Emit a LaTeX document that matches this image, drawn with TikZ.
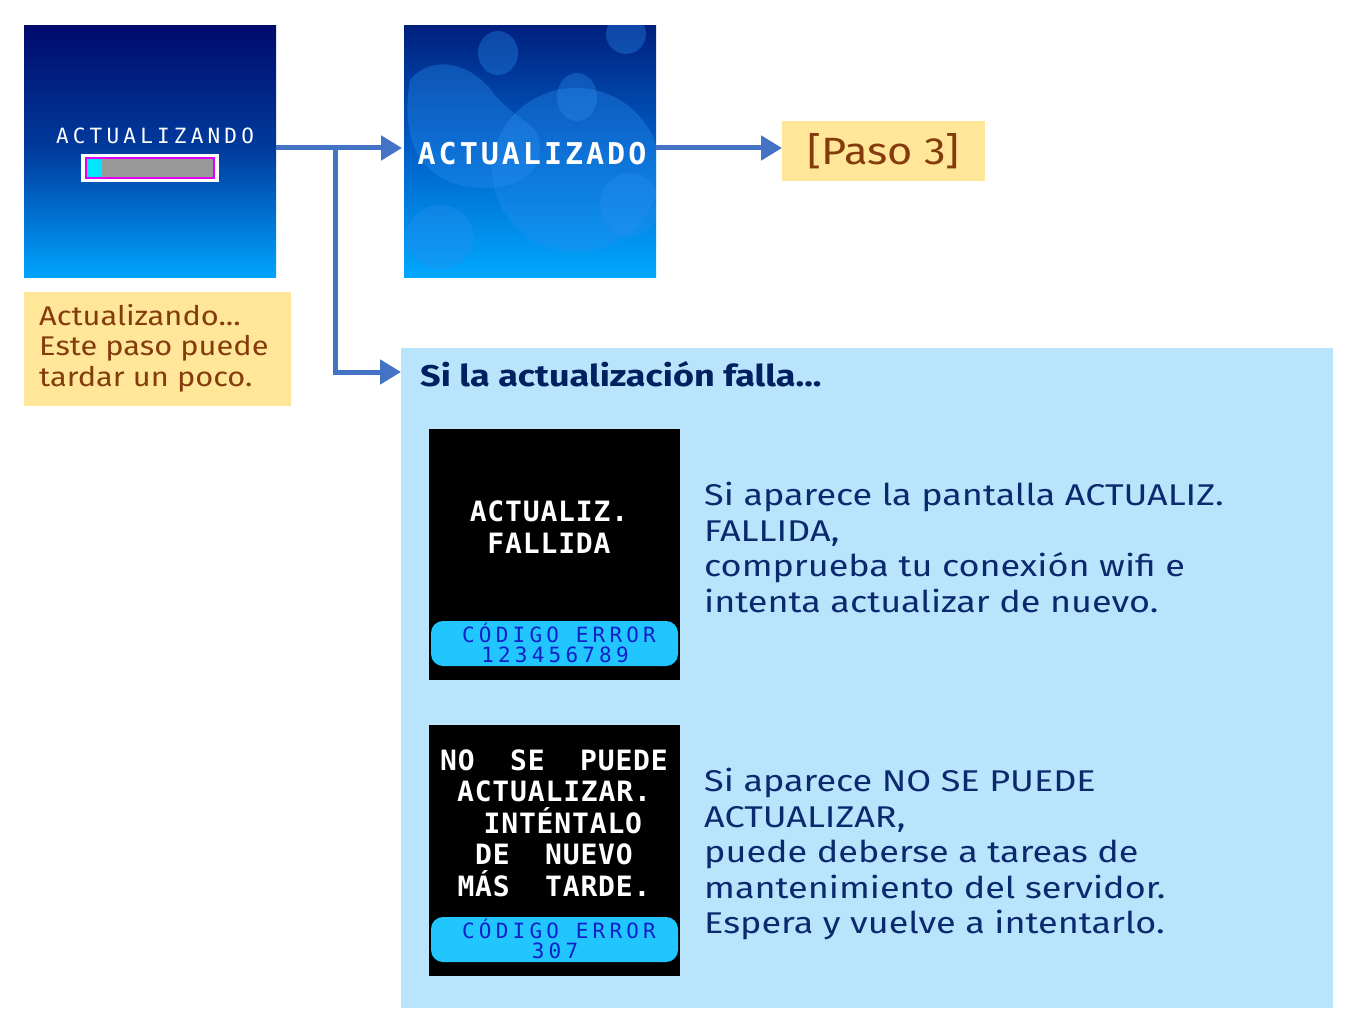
\documentclass[tikz,border=0pt]{standalone}
\usepackage{fontspec}
\setmainfont{Fira Sans}[FakeStretch=1.2]
\newfontfamily\capfont{Fira Sans}[FakeStretch=1.14]
\newfontfamily\pixfont{DejaVu Sans Mono}[LetterSpace=20]
\newfontfamily\pixbold{DejaVu Sans Mono Bold}[LetterSpace=3]
\newfontfamily\pixboldw{DejaVu Sans Mono Bold}[LetterSpace=10]
\usetikzlibrary{arrows.meta}
\definecolor{navytop}{HTML}{000B6C}
\definecolor{navymid}{HTML}{003C9E}
\definecolor{navybot}{HTML}{00A4FF}
\definecolor{s2top}{HTML}{00207E}
\definecolor{s2mid}{HTML}{0060C8}
\definecolor{s2bot}{HTML}{00A8FF}
\definecolor{bubblec}{HTML}{2A90F0}
\definecolor{capyel}{HTML}{FFE699}
\definecolor{capbrown}{HTML}{843C0C}
\definecolor{panelblue}{HTML}{B8E4FC}
\definecolor{titlenavy}{HTML}{002060}
\definecolor{bodynavy}{HTML}{0A2A6E}
\definecolor{arrblue}{HTML}{4472C4}
\definecolor{pillcyan}{HTML}{22C6FF}
\definecolor{pilltext}{HTML}{1020C8}
\definecolor{barmag}{HTML}{E000F0}
\definecolor{barcyan}{HTML}{00E6FF}
\begin{document}
\begin{tikzpicture}[x=1pt,y=-1pt,
  screen/.style={minimum width=252pt,minimum height=251pt,inner sep=0pt,outer sep=0pt},
  caption/.style={fill=capyel,inner sep=0pt,outer sep=0pt,text=capbrown},
  arr/.style={draw=arrblue,line width=5pt,-{Triangle[length=21pt,width=24pt]}},
  blackscr/.style={fill=black,minimum width=251pt,minimum height=251pt,inner sep=0pt,outer sep=0pt},
  pill/.style={fill=pillcyan,rounded corners=12pt,minimum width=247pt,minimum height=45pt,inner sep=0pt},
  pilltxt/.style={text=pilltext,font=\pixfont\fontsize{21}{21}\selectfont,inner sep=0pt},
  scrtxt/.style={text=white,font=\pixbold\fontsize{28}{31.5}\selectfont,inner sep=0pt,align=center},
  bodytxt/.style={text=bodynavy,font=\fontsize{30}{35.5}\selectfont,inner sep=0pt,align=left,anchor=north west},
  bubble/.style={fill=bubblec,fill opacity=0.35}
]
\useasboundingbox (0,0) rectangle (1360,1035);
\fill[white] (0,0) rectangle (1360,1035);

% Screen 1
\node[screen,top color=navytop,bottom color=navybot,middle color=navymid] (s1) at (150,151.5) {};
\node[text=white,font=\pixfont\fontsize{21}{21}\selectfont,inner sep=0pt] (s1txt) at (155,136) {ACTUALIZANDO};
\node[fill=white,minimum width=138pt,minimum height=28pt,inner sep=0pt] (barout) at (150,168) {};
\node[fill=black!40,draw=barmag,line width=2pt,minimum width=128pt,minimum height=20pt,inner sep=0pt] (barin) at (150,168) {};
\node[fill=barcyan,minimum width=15pt,minimum height=18pt,inner sep=0pt,anchor=west] (barfill) at ([xshift=2pt]barin.west) {};

% Caption 1
\node[caption,minimum width=267pt,minimum height=114pt] (cap1) at (157.5,349) {};
\node[text=capbrown,font=\capfont\fontsize{27}{30.5}\selectfont,align=left,anchor=north west,inner sep=0pt] (cap1txt) at (39,304) {Actualizando...\\Este paso puede\\tardar un poco.};

% Screen 2
\node[screen,top color=s2top,bottom color=s2bot,middle color=s2mid] (s2) at (530,151.5) {};
\begin{scope}
\clip (404,26) rectangle (656,277);
\fill[bubble] (498,53) circle[x radius=20,y radius=22];
\fill[bubble] (626,34) circle[radius=20];
\fill[bubble] (577,97) circle[x radius=20,y radius=24];
\fill[bubble] (410,80) .. controls (430,55) and (470,60) .. (495,95) .. controls (520,125) and (540,120) .. (540,150) .. controls (540,180) and (500,195) .. (460,185) .. controls (420,175) and (400,140) .. (410,80);
\fill[bubble] (576,170) circle[x radius=84,y radius=82];
\fill[bubble] (630,205) circle[x radius=30,y radius=32];
\fill[bubble] (440,237) circle[x radius=34,y radius=32];
\end{scope}
\node[text=white,font=\pixboldw\fontsize{30}{30}\selectfont,inner sep=0pt] (s2txt) at (532,154) {ACTUALIZADO};

% Paso 3
\node[caption,minimum width=203pt,minimum height=60pt,font=\capfont\fontsize{38}{38}\selectfont] (paso) at (883.5,151) {[Paso 3]};

% Panel
\node[fill=panelblue,minimum width=932pt,minimum height=660pt,inner sep=0pt,outer sep=0pt] (panel) at (867,678) {};
\node[text=titlenavy,font=\bfseries\fontsize{30}{30}\selectfont,inner sep=0pt,anchor=west] (title) at (420,374) {Si la actualización falla...};

% Arrows
\coordinate (br) at (335,148);
\draw[arr] ([yshift=3.5pt]s1.east) -- ([yshift=3.5pt,xshift=-2pt]s2.west);
\draw[arr] ([yshift=3.5pt]s2.east) -- ([yshift=3pt]paso.west);
\draw[arr] (br) |- ([yshift=2pt]title.west -| panel.west);

% Black screen 1
\node[blackscr] (b1) at (554.5,554.5) {};
\node[scrtxt] (b1txt) at (549,527) {ACTUALIZ.\\FALLIDA};
\node[pill] (p1) at (554.5,643.5) {};
\node[pilltxt] (p1a) at (559,633) {CÓDIGO ERROR};
\node[pilltxt] (p1b) at (555,655) {123456789};
\node[bodytxt] (t1) at (704,482) {Si aparece la pantalla ACTUALIZ.\\FALLIDA,\\comprueba tu conexión wifi e\\intenta actualizar de nuevo.};

% Black screen 2
\node[blackscr] (b2) at (554.5,850) {};
\node[scrtxt] (b2txt) at (554,823) {NO\ \ SE\ \ PUEDE\\ACTUALIZAR.\\\ INTÉNTALO\\DE\ \ NUEVO\\MÁS\ \ TARDE.};
\node[pill] (p2) at (554.5,939.5) {};
\node[pilltxt] (p2a) at (559,929) {CÓDIGO ERROR};
\node[pilltxt] (p2b) at (555,951) {307};
\node[bodytxt] (t2) at (704,768) {Si aparece NO SE PUEDE\\ACTUALIZAR,\\puede deberse a tareas de\\mantenimiento del servidor.\\Espera y vuelve a intentarlo.};
\end{tikzpicture}
\end{document}
